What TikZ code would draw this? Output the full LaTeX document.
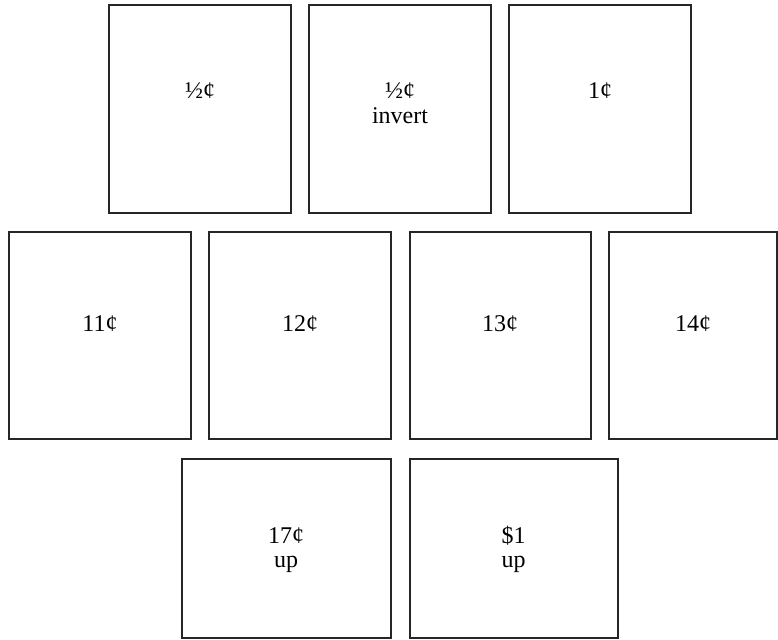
\documentclass[tikz,border=0pt]{standalone}
\usepackage{fontspec}
\setmainfont{Liberation Serif}
\usetikzlibrary{positioning}

\begin{document}
\begin{tikzpicture}[x=0.5pt,y=-0.5pt,
  stamp/.style={rectangle, draw=black!85, line width=1pt, inner sep=0pt},
  value/.style={font=\fontsize{12}{12.2}\selectfont, align=center, anchor=base, inner sep=0pt}]
  \useasboundingbox (0,0) rectangle (778,639);
  % top row
  \node[stamp, minimum width=90.75pt, minimum height=104pt] (half) at (199.75,108.5) {};
  \node[stamp, minimum width=90.75pt, minimum height=104pt] (halfinv) at (399.75,108.5) {};
  \node[stamp, minimum width=90.75pt, minimum height=104pt] (one) at (599.75,108.5) {};
  \node[value] (halft) at (200,98.5) {½¢};
  \node[value] (halfinvt) at (400,123) {½¢\\invert};
  \node[value] (onet) at (600,98.5) {1¢};
  % middle row
  \node[stamp, minimum width=91pt, minimum height=103.5pt] (eleven) at (100,335.5) {};
  \node[stamp, minimum width=90.75pt, minimum height=103.5pt] (twelve) at (299.75,335.5) {};
  \node[stamp, minimum width=90.5pt, minimum height=103.5pt] (thirteen) at (500,335.5) {};
  \node[stamp, minimum width=84pt, minimum height=103.5pt] (fourteen) at (693,335.5) {};
  \node[value] (elevent) at (100,331) {11¢};
  \node[value] (twelvet) at (300,331) {12¢};
  \node[value] (thirteent) at (500,331) {13¢};
  \node[value] (fourteent) at (693,331) {14¢};
  % bottom row
  \node[stamp, minimum width=104.25pt, minimum height=89.75pt] (seventeen) at (286.25,548.25) {};
  \node[stamp, minimum width=104pt, minimum height=89.75pt] (dollar) at (513.5,548.25) {};
  \node[value] (seventeent) at (286,567.5) {17¢\\up};
  \node[value] (dollart) at (513.5,567.5) {\$1\\up};
\end{tikzpicture}
\end{document}
